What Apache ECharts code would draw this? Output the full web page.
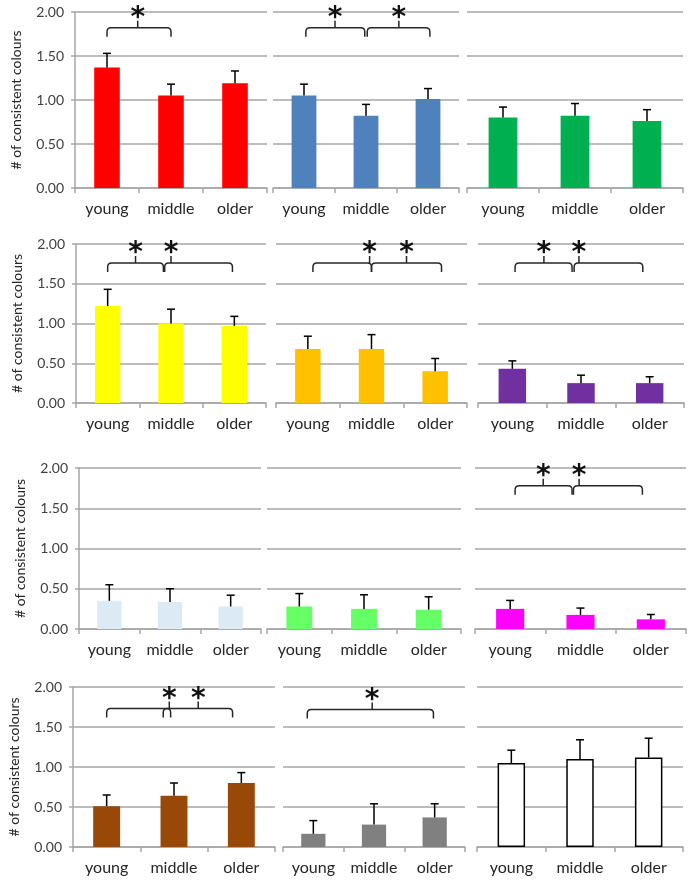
<!DOCTYPE html>
<html><head><meta charset="utf-8">
<script src="https://cdn.jsdelivr.net/npm/echarts@6/dist/echarts.min.js"></script>
<style>html,body{margin:0;padding:0;background:#fff}#c{width:693px;height:884px}</style>
</head><body><div id="c"></div>
<script>
// ---- data ----
const categories = ['young', 'middle', 'older'];
const yTicks = ['0.00', '0.50', '1.00', '1.50', '2.00'];
const yTitle = '# of consistent colours';

const redMean = [1.37, 1.05, 1.19],      redErr = [1.53, 1.18, 1.33];
const blueMean = [1.05, 0.82, 1.01],     blueErr = [1.18, 0.95, 1.13];
const greenMean = [0.80, 0.82, 0.76],    greenErr = [0.92, 0.96, 0.89];
const yellowMean = [1.22, 1.00, 0.97],   yellowErr = [1.43, 1.18, 1.09];
const orangeMean = [0.68, 0.68, 0.40],   orangeErr = [0.84, 0.86, 0.56];
const purpleMean = [0.43, 0.25, 0.25],   purpleErr = [0.53, 0.35, 0.33];
const lightBlueMean = [0.35, 0.335, 0.28], lightBlueErr = [0.55, 0.50, 0.42];
const limeMean = [0.28, 0.25, 0.24],     limeErr = [0.44, 0.425, 0.40];
const magentaMean = [0.25, 0.175, 0.12], magentaErr = [0.355, 0.26, 0.18];
const brownMean = [0.51, 0.64, 0.80],    brownErr = [0.65, 0.80, 0.93];
const greyMean = [0.165, 0.28, 0.37],    greyErr = [0.33, 0.54, 0.54];
const whiteMean = [1.05, 1.10, 1.12],    whiteErr = [1.21, 1.34, 1.36];

// significance brackets: [left end, right end, tick position, height] (category index units / value)
const redBrackets = [[0, 1.0, 0.48, 1.82]];
const blueBrackets = [[0.03, 0.98, 0.5, 1.82], [1.02, 2.03, 1.53, 1.82]];
const yellowBrackets = [[0, 0.88, 0.44, 1.76], [0.9, 1.97, 1.0, 1.76]];
const orangeBrackets = [[0.08, 1.0, 0.97, 1.76], [1.0, 2.1, 1.55, 1.76]];
const purpleBrackets = [[0.04, 0.87, 0.46, 1.76], [0.9, 1.9, 0.97, 1.76]];
const magentaBrackets = [[0.07, 0.88, 0.47, 1.78], [0.9, 1.88, 0.98, 1.78]];
const brownBrackets = [[0, 0.95, 0.93, 1.73], [0.84, 1.87, 1.36, 1.73]];
const greyBrackets = [[-0.1, 1.98, 0.97, 1.72]];

const panels = [
  {mean: redMean, err: redErr, color: '#ff0000', br: redBrackets},
  {mean: blueMean, err: blueErr, color: '#4f81bd', br: blueBrackets},
  {mean: greenMean, err: greenErr, color: '#00b050', br: []},
  {mean: yellowMean, err: yellowErr, color: '#ffff00', br: yellowBrackets},
  {mean: orangeMean, err: orangeErr, color: '#ffc000', br: orangeBrackets},
  {mean: purpleMean, err: purpleErr, color: '#7030a0', br: purpleBrackets},
  {mean: lightBlueMean, err: lightBlueErr, color: '#dbeaf4', br: []},
  {mean: limeMean, err: limeErr, color: '#66ff66', br: []},
  {mean: magentaMean, err: magentaErr, color: '#ff00ff', br: magentaBrackets},
  {mean: brownMean, err: brownErr, color: '#984807', br: brownBrackets},
  {mean: greyMean, err: greyErr, color: '#808080', br: greyBrackets},
  {mean: whiteMean, err: whiteErr, color: '#ffffff', br: [], border: true}
];

// ---- layout ----
const rowTops = [12, 244, 468, 687];
const rowHeights = [176, 159, 161, 160];
const boxes = [
  [75, 192], [273, 186], [467, 216],
  [76, 190], [276, 191], [478, 206],
  [79, 182], [267, 194], [475, 211],
  [73, 202], [283, 182], [477, 206]
];

const FONT = 'Lato, "Open Sans", sans-serif';
const GRID_C = '#a6a6a6';

const grid = [], xAxis = [], yAxis = [], series = [];
panels.forEach((p, i) => {
  const r = Math.floor(i / 3), c = i % 3;
  grid.push({left: boxes[i][0], width: boxes[i][1], top: rowTops[r], height: rowHeights[r], containLabel: false});
  xAxis.push({
    type: 'category', gridIndex: i, data: categories,
    axisLine: {show: true, lineStyle: {color: GRID_C, width: 1.5}},
    axisTick: {show: true, length: 5, lineStyle: {color: GRID_C, width: 1.5}},
    axisLabel: {interval: 0, hideOverlap: false, fontFamily: FONT, fontSize: 16, color: '#262626', margin: 13}
  });
  const first = c === 0;
  yAxis.push({
    type: 'value', gridIndex: i, min: 0, max: 2, interval: 0.5,
    name: first ? yTitle : '', nameLocation: 'middle', nameGap: 52,
    nameTextStyle: {fontFamily: FONT, fontSize: 14, color: '#262626'},
    axisLine: {show: first, lineStyle: {color: GRID_C, width: 1.5}},
    axisTick: {show: first, length: 4, lineStyle: {color: GRID_C, width: 1.5}},
    axisLabel: {show: first, fontFamily: FONT, fontSize: 14, color: '#404040', margin: 11,
      formatter: v => yTicks[Math.round(v / 0.5)]},
    splitLine: {show: true, lineStyle: {color: GRID_C, width: 1.5}}
  });
  series.push({
    type: 'bar', xAxisIndex: i, yAxisIndex: i, data: p.mean, barWidth: '40%',
    itemStyle: {color: p.color, borderColor: p.border ? '#000' : p.color, borderWidth: p.border ? 1.5 : 0},
    silent: true, animation: false, z: 2
  });
  series.push({
    type: 'custom', xAxisIndex: i, yAxisIndex: i,
    data: p.err.map((e, k) => [k, p.mean[k], e]),
    encode: {x: 0, y: 2},
    renderItem: (params, api) => {
      const x = api.value(0);
      const a = api.coord([x, api.value(1)]);
      const b = api.coord([x, api.value(2)]);
      const st = {stroke: '#000', lineWidth: 1.5};
      return {type: 'group', children: [
        {type: 'line', shape: {x1: a[0], y1: a[1], x2: b[0], y2: b[1]}, style: st},
        {type: 'line', shape: {x1: b[0] - 4, y1: b[1], x2: b[0] + 4, y2: b[1]}, style: st}
      ]};
    },
    silent: true, animation: false, z: 3
  });
  if (p.br.length) {
    series.push({
      type: 'custom', xAxisIndex: i, yAxisIndex: i,
      data: p.br.map(b => [0, b[3]]),
      encode: {x: 0, y: 1},
      renderItem: (params, api) => {
        const b = p.br[params.dataIndex];
        const p0 = api.coord([0, b[3]]), p1 = api.coord([1, b[3]]);
        const step = p1[0] - p0[0];
        const X = f => p0[0] + f * step;
        const y = p0[1];
        const x1 = X(b[0]), x2 = X(b[1]), xt = X(b[2]);
        const d = 9, rr = 4, t = 7;
        const path = `M${x1} ${y + d} L${x1} ${y + rr} Q${x1} ${y} ${x1 + rr} ${y} L${x2 - rr} ${y} Q${x2} ${y} ${x2} ${y + rr} L${x2} ${y + d}` +
          ` M${xt} ${y} L${xt} ${y - t}`;
        return {type: 'group', children: [
          {type: 'path', shape: {pathData: path}, style: {stroke: '#262626', lineWidth: 1.5, fill: null}},
          {type: 'text', x: xt, y: y - t + 12, style: {text: '*', fontFamily: 'DejaVu Sans', fontSize: 28, fontWeight: 'bold', fill: '#111', align: 'center', verticalAlign: 'bottom'}}
        ]};
      },
      silent: true, animation: false, z: 4
    });
  }
});

const chart = echarts.init(document.getElementById('c'), null, {renderer: 'canvas'});
chart.setOption({animation: false, grid, xAxis, yAxis, series});
</script>
</body></html>
